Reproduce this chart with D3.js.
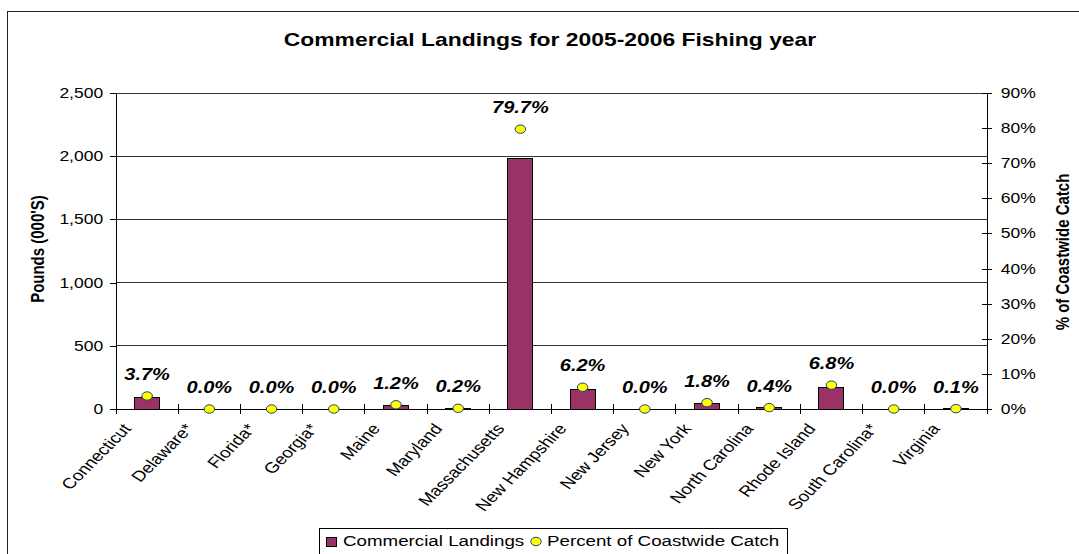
<!DOCTYPE html>
<html>
<head>
<meta charset="utf-8">
<script src="https://cdn.jsdelivr.net/npm/d3@7"></script>
<style>
  body { margin: 0; background: #fff; }
  svg { display: block; font-family: Arial, "Liberation Sans", sans-serif; }
  .ln { vector-effect: non-scaling-stroke; shape-rendering: crispEdges; }
</style>
</head>
<body>
<div id="chart"></div>
<script>
// data
const states = ['Connecticut', 'Delaware*', 'Florida*', 'Georgia*', 'Maine', 'Maryland',
  'Massachusetts', 'New Hampshire', 'New Jersey', 'New York', 'North Carolina',
  'Rhode Island', 'South Carolina*', 'Virginia']
const landings = [93, 0, 0, 0, 30, 5, 1980, 154, 0, 45, 10, 169, 0, 2.5]
const pctCatch = [3.7, 0.0, 0.0, 0.0, 1.2, 0.2, 79.7, 6.2, 0.0, 1.8, 0.4, 6.8, 0.0, 0.1]
const leftTicks = [0, 500, 1000, 1500, 2000, 2500]
const rightTicks = [0, 10, 20, 30, 40, 50, 60, 70, 80, 90]

const W = 1079, H = 554
const SX = 1.25   // the picture is stretched sideways, so is everything here
const margin = {left: 116, right: 987, top: 93, bottom: 409}

const svg = d3.select('#chart').append('svg')
    .attr('width', W).attr('height', H)
const g = svg.append('g').attr('transform', 'scale(' + SX + ',1)')

// outer frame (left and top edges only show)
g.append('path').attr('class', 'ln')
    .attr('d', 'M' + 7 / SX + ',' + H + 'V11H' + W / SX)
    .attr('fill', 'none').attr('stroke', '#222')

const x = d3.scaleBand().domain(states).range([margin.left / SX, margin.right / SX])
const yL = d3.scaleLinear().domain([0, 2500]).range([margin.bottom, margin.top])
const yR = d3.scaleLinear().domain([0, 90]).range([margin.bottom, margin.top])
const x0 = margin.left / SX, x1 = margin.right / SX

// gridlines
g.append('g').selectAll('line')
    .data(leftTicks.filter(d => d > 0))
    .enter().append('line').attr('class', 'ln')
    .attr('x1', x0).attr('x2', x1)
    .attr('y1', d => yL(d)).attr('y2', d => yL(d))
    .attr('stroke', '#333')

// title
g.append('text')
    .attr('x', 550 / SX).attr('y', 46)
    .attr('text-anchor', 'middle')
    .style('font-size', '18.3px').style('font-weight', 'bold')
    .text('Commercial Landings for 2005-2006 Fishing year')

// bars
const bw = 25 / SX
g.append('g').selectAll('rect')
    .data(states)
    .enter().append('rect').attr('class', 'ln')
    .attr('x', d => x(d) + x.bandwidth() / 2 - bw / 2)
    .attr('width', bw)
    .attr('y', (d, i) => yL(landings[i]))
    .attr('height', (d, i) => yL(0) - yL(landings[i]))
    .attr('fill', '#993366').attr('stroke', '#000')

// left axis
const leftAxis = g.append('g')
    .attr('transform', 'translate(' + x0 + ',0)')
    .call(d3.axisLeft(yL).tickValues(leftTicks).tickFormat(d3.format(','))
        .tickSize(6 / SX).tickSizeOuter(0).tickPadding(5.5))
leftAxis.selectAll('path, line').attr('class', 'ln').attr('stroke', '#000')
leftAxis.selectAll('text').style('font-size', '14px').style('font-family', 'inherit').attr('fill', '#000')

// right axis, ticks cross the line
const rightAxis = g.append('g')
    .attr('transform', 'translate(' + x1 + ',0)')
    .call(d3.axisRight(yR).tickValues(rightTicks).tickFormat(d => d + '%')
        .tickSize(5 / SX).tickSizeOuter(0).tickPadding(7))
rightAxis.selectAll('path, line').attr('class', 'ln').attr('stroke', '#000')
rightAxis.selectAll('.tick line').attr('x1', -5 / SX)
rightAxis.selectAll('text').style('font-size', '14px').style('font-family', 'inherit').attr('fill', '#000')

// category axis
const bounds = states.map(s => x(s)).concat([x1])
g.append('line').attr('class', 'ln')
    .attr('x1', x0).attr('x2', x1)
    .attr('y1', margin.bottom).attr('y2', margin.bottom)
    .attr('stroke', '#000')
g.append('g').selectAll('line')
    .data(bounds)
    .enter().append('line').attr('class', 'ln')
    .attr('x1', d => d).attr('x2', d => d)
    .attr('y1', margin.bottom - 5).attr('y2', margin.bottom + 5)
    .attr('stroke', '#000')

g.append('g').selectAll('text')
    .data(states)
    .enter().append('text')
    .attr('transform', d => 'translate(' + (x(d) + x.bandwidth() / 2 - 15 / SX) + ',' + 429 + ') rotate(-51.34)')
    .attr('text-anchor', 'end')
    .style('font-size', '15px')
    .text(d => d)

// percent dots and labels
g.append('g').selectAll('circle')
    .data(states)
    .enter().append('circle')
    .attr('cx', d => x(d) + x.bandwidth() / 2)
    .attr('cy', (d, i) => yR(pctCatch[i]))
    .attr('r', 4.2)
    .attr('fill', '#ffff00').attr('stroke', '#1f3f78')
    .style('vector-effect', 'non-scaling-stroke')

g.append('g').selectAll('text')
    .data(states)
    .enter().append('text')
    .attr('x', d => x(d) + x.bandwidth() / 2)
    .attr('y', (d, i) => yR(pctCatch[i]) - 16)
    .attr('text-anchor', 'middle')
    .style('font-size', '16px').style('font-weight', 'bold').style('font-style', 'italic')
    .text((d, i) => pctCatch[i].toFixed(1) + '%')

// axis titles
g.append('text')
    .attr('transform', 'translate(' + 44 / SX + ',249) rotate(-90)')
    .attr('text-anchor', 'middle')
    .style('font-size', '15px').style('font-weight', 'bold')
    .text("Pounds (000'S)")
g.append('text')
    .attr('transform', 'translate(' + 1069 / SX + ',252) rotate(-90)')
    .attr('text-anchor', 'middle')
    .style('font-size', '15px').style('font-weight', 'bold')
    .text('% of Coastwide Catch')

// legend
const lg = g.append('g')
lg.append('rect').attr('class', 'ln')
    .attr('x', 319 / SX).attr('y', 528)
    .attr('width', (787 - 319) / SX).attr('height', 40)
    .attr('fill', '#fff').attr('stroke', '#000')
lg.append('rect').attr('class', 'ln')
    .attr('x', 326 / SX).attr('y', 537)
    .attr('width', 8).attr('height', 9)
    .attr('fill', '#993366').attr('stroke', '#000')
lg.append('text')
    .attr('x', 343 / SX).attr('y', 546)
    .style('font-size', '15px')
    .text('Commercial Landings')
lg.append('circle')
    .attr('cx', 536 / SX).attr('cy', 541.5).attr('r', 4.2)
    .attr('fill', '#ffff00').attr('stroke', '#1f3f78')
    .style('vector-effect', 'non-scaling-stroke')
lg.append('text')
    .attr('x', 547 / SX).attr('y', 546)
    .style('font-size', '15px')
    .text('Percent of Coastwide Catch')
</script>
</body>
</html>
